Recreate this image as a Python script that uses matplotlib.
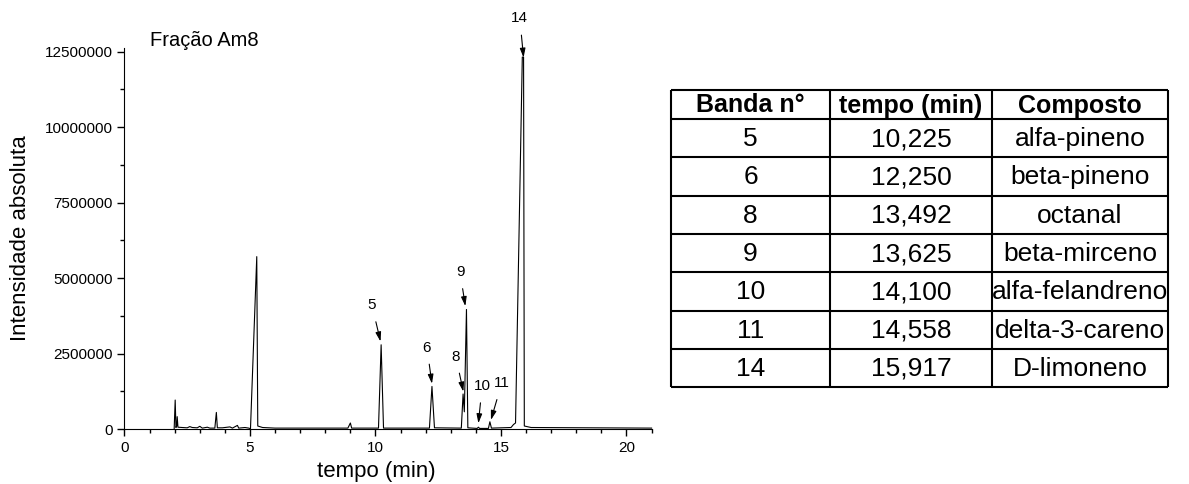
import numpy as np
import matplotlib
matplotlib.use("Agg")
import matplotlib.pyplot as plt
from matplotlib.ticker import MultipleLocator, FuncFormatter

plt.rcParams.update({"font.family": ["Liberation Sans", "DejaVu Sans"]})

# chromatogram trace (time in min, intensity in millions)
tempo = [1.98, 2.02, 2.05, 2.08, 2.10, 2.13, 2.3, 2.5, 2.6, 2.7, 2.9, 3.0, 3.1, 3.3, 3.4,
         3.6, 3.66, 3.70, 3.9, 4.2, 4.3, 4.5, 4.55, 4.8, 4.95, 5.02, 5.27, 5.31, 5.5, 6.0,
         8.9, 9.0, 9.05, 10.12, 10.225, 10.32, 12.15, 12.25, 12.35, 13.42, 13.49, 13.54,
         13.625, 13.68, 14.05, 14.1, 14.15, 14.5, 14.558, 14.62, 15.4, 15.5, 15.58, 15.85,
         15.9, 15.93, 16.2, 21.0]
intens = [0.02, 0.96, 0.05, 0.10, 0.41, 0.06, 0.05, 0.04, 0.08, 0.05, 0.04, 0.09, 0.03, 0.06, 0.03,
          0.03, 0.55, 0.04, 0.04, 0.07, 0.03, 0.12, 0.03, 0.05, 0.03, 0.01, 5.71, 0.10, 0.05, 0.03,
          0.03, 0.20, 0.03, 0.03, 2.79, 0.03, 0.03, 1.41, 0.04, 0.03, 1.16, 0.57,
          3.96, 0.04, 0.02, 0.06, 0.02, 0.02, 0.24, 0.03, 0.05, 0.15, 0.20, 12.32,
          12.32, 0.10, 0.05, 0.03]

# peak labels: text, arrow tip (x, y) and label position (x, y), y in millions
pk_nome = ["5", "6", "8", "9", "10", "11", "14"]
pk_tip = [(10.2, 2.9), (12.25, 1.5), (13.5, 1.24), (13.58, 4.07), (14.1, 0.19), (14.6, 0.3), (15.9, 12.3)]
pk_txt = [(9.86, 4.1), (12.05, 2.7), (13.2, 2.4), (13.37, 5.2), (14.25, 1.42), (15.03, 1.52), (15.75, 13.6)]

banda = ["5", "6", "8", "9", "10", "11", "14"]
tempos = ["10,225", "12,250", "13,492", "13,625", "14,100", "14,558", "15,917"]
composto = ["alfa-pineno", "beta-pineno", "octanal", "beta-mirceno", "alfa-felandreno",
            "delta-3-careno", "D-limoneno"]
cabecalho = ["Banda n°", "tempo (min)", "Composto"]

fig = plt.figure(figsize=(11.89, 4.84), dpi=100)
ax = fig.add_axes([0.1047, 0.1136, 0.4433, 0.7872])
ax.plot(tempo, np.array(intens) * 1e6, color="black", lw=0.8, clip_on=False)
ax.set_xlim(0, 21)
ax.set_ylim(0, 12.62e6)
ax.xaxis.set_major_locator(MultipleLocator(5))
ax.xaxis.set_minor_locator(MultipleLocator(1))
ax.yaxis.set_major_locator(MultipleLocator(2.5e6))
ax.yaxis.set_minor_locator(MultipleLocator(1.25e6))
ax.yaxis.set_major_formatter(FuncFormatter(lambda v, p: f"{v:.0f}"))
for s in ("top", "right"):
    ax.spines[s].set_visible(False)
ax.tick_params(which="major", direction="out", length=5, width=1, labelsize=11)
ax.tick_params(which="minor", direction="out", length=3, width=1)
ax.set_xlabel("tempo (min)", fontsize=16)
ax.xaxis.set_label_coords(0.477, -0.085)
ax.set_ylabel("Intensidade absoluta", fontsize=16)
ax.yaxis.set_label_coords(-0.178, 0.5)
ax.text(1.0, 12.87e6, "Fração Am8", fontsize=14.5, va="center")

for nome, tip, txt in zip(pk_nome, pk_tip, pk_txt):
    ax.annotate(nome, xy=(tip[0], tip[1] * 1e6), xytext=(txt[0], txt[1] * 1e6),
                fontsize=11, ha="center", va="center", annotation_clip=False,
                arrowprops=dict(arrowstyle="-|>,head_length=0.5,head_width=0.15",
                                color="black", lw=0.8, shrinkA=5, shrinkB=0))

# table, drawn in pixel coordinates of the figure
tb = fig.add_axes([0, 0, 1, 1])
tb.set_xlim(0, 1189)
tb.set_ylim(484, 0)
tb.axis("off")
xs = [671, 830, 992, 1168]
ys = [90, 119] + [119 + 38.3 * (i + 1) for i in range(len(banda))]
tb.hlines(ys, xs[0], xs[-1], color="black", lw=1.5)
tb.vlines(xs, ys[0], ys[-1], color="black", lw=1.5)
for j, h in enumerate(cabecalho):
    tb.text((xs[j] + xs[j + 1]) / 2, (ys[0] + ys[1]) / 2 + 1, h, fontsize=18,
            weight="bold", ha="center", va="center")
for i, linha in enumerate(zip(banda, tempos, composto)):
    for j, v in enumerate(linha):
        tb.text((xs[j] + xs[j + 1]) / 2, (ys[i + 1] + ys[i + 2]) / 2 + 1, v, fontsize=19,
                ha="center", va="center")

fig.savefig("out.png", dpi=100)
